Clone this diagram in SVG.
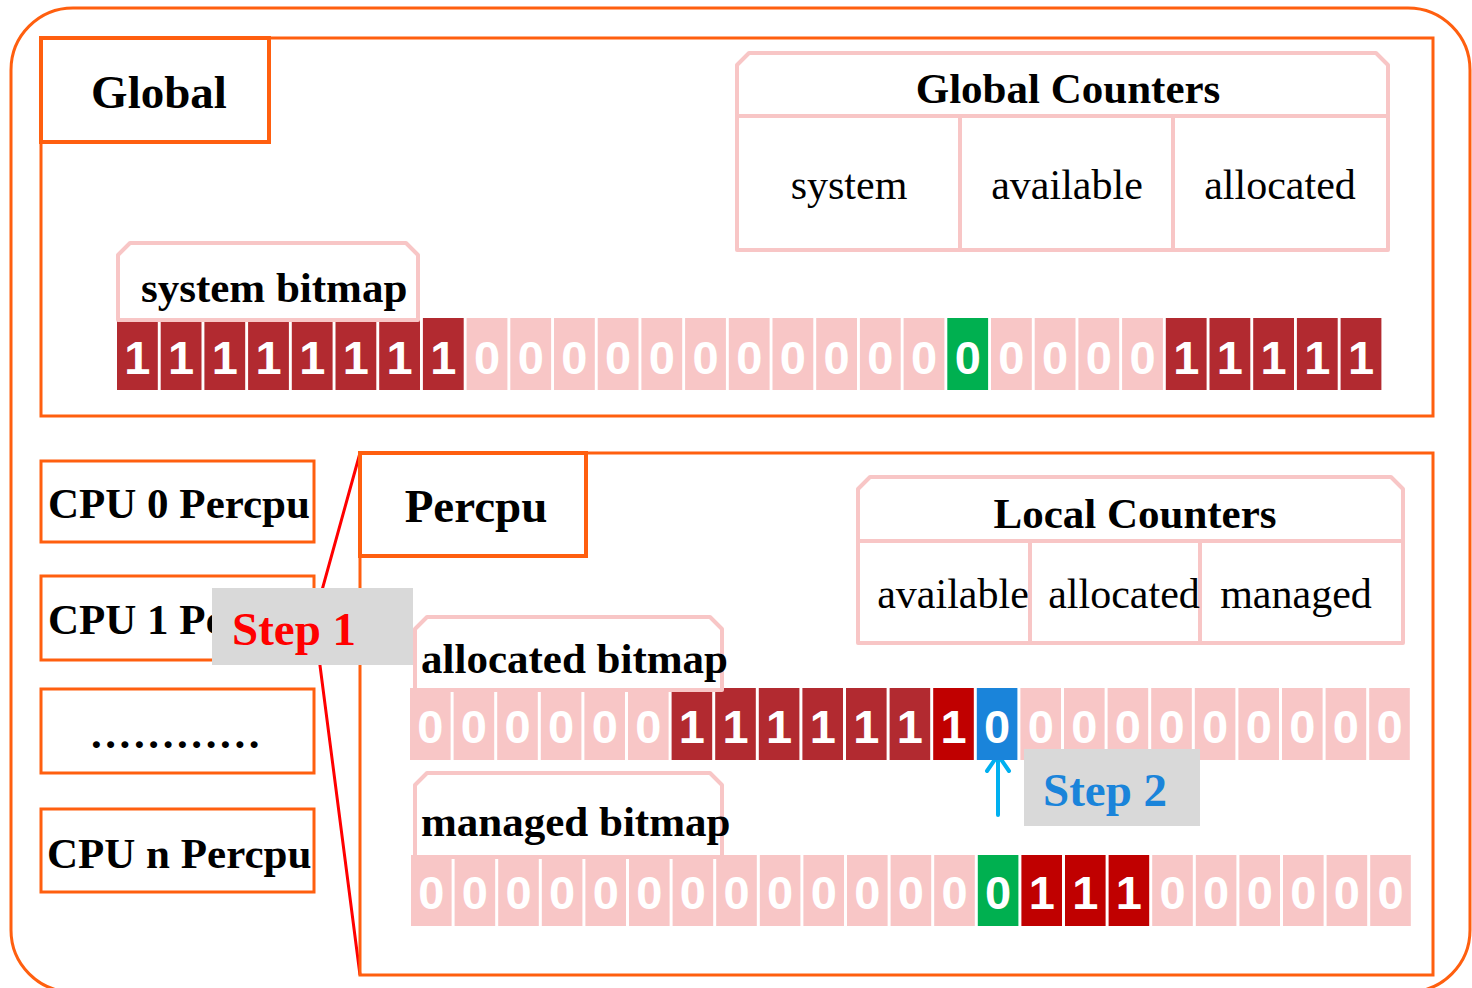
<svg xmlns="http://www.w3.org/2000/svg" width="1472" height="988" viewBox="0 0 1472 988">
  <defs>
    <style>
      .frame { fill: none; stroke: #FF5F0F; stroke-width: 3; }
      .tag { fill: #FFFFFF; stroke: #FF5F0F; stroke-width: 4; }
      .tbl { fill: #FFFFFF; stroke: #F8C6C6; stroke-width: 4; stroke-linejoin: round; }
      .div { stroke: #F8C6C6; stroke-width: 4; }
      .title { font-family: "Liberation Serif", "Times New Roman", serif; font-weight: bold; font-size: 47px; fill: #000; }
      .head { font-family: "Liberation Serif", "Times New Roman", serif; font-weight: bold; font-size: 43px; fill: #000; }
      .cell { font-family: "Liberation Serif", "Times New Roman", serif; font-size: 42px; fill: #000; }
      .z { fill: #F8C6C6; }
      .o { fill: #B22A30; }
      .r { fill: #C00000; }
      .g { fill: #00B050; }
      .b { fill: #1A84DA; }
      .bit { font-family: "Liberation Sans", Arial, sans-serif; font-weight: bold; font-size: 47px; fill: #FFFFFF; text-anchor: middle; }
      .step { fill: #D9D9D9; }
      .steptxt { font-family: "Liberation Serif", "Times New Roman", serif; font-weight: bold; font-size: 47px; }
    </style>
    <!-- the Step 1 badge hides the tail of the CPU 1 label -->
    <clipPath id="cpu1-clip">
      <rect x="41" y="576" width="171" height="84"/>
    </clipPath>
  </defs>

  <!-- outer rounded frame -->
  <rect class="frame" x="11" y="8" width="1459" height="984" rx="62" ry="62"/>

  <!-- ===== Global section ===== -->
  <g id="global">
    <rect class="frame" x="41" y="38" width="1392" height="378"/>
    <rect class="tag" x="41" y="38" width="228" height="104"/>
    <text class="title" x="159" y="108" text-anchor="middle">Global</text>
  </g>

  <g id="global-counters">
    <path class="tbl" d="M737,250 V65 L749,53 H1376 L1388,65 V250 Z"/>
    <line class="div" x1="737" y1="116" x2="1388" y2="116"/>
    <line class="div" x1="960" y1="116" x2="960" y2="250"/>
    <line class="div" x1="1173" y1="116" x2="1173" y2="250"/>
    <text class="head" x="1068" y="103" text-anchor="middle">Global Counters</text>
    <text class="cell" x="849" y="199" text-anchor="middle">system</text>
    <text class="cell" x="1067" y="199" text-anchor="middle">available</text>
    <text class="cell" x="1280" y="199" text-anchor="middle">allocated</text>
  </g>

  <g id="system-bitmap">
    <rect class="o" x="117" y="318" width="40.8" height="72"/>
    <rect class="o" x="160.7" y="318" width="40.8" height="72"/>
    <rect class="o" x="204.4" y="318" width="40.8" height="72"/>
    <rect class="o" x="248.1" y="318" width="40.8" height="72"/>
    <rect class="o" x="291.8" y="318" width="40.8" height="72"/>
    <rect class="o" x="335.5" y="318" width="40.8" height="72"/>
    <rect class="o" x="379.2" y="318" width="40.8" height="72"/>
    <rect class="o" x="422.9" y="318" width="40.8" height="72"/>
    <rect class="z" x="466.6" y="318" width="40.8" height="72"/>
    <rect class="z" x="510.3" y="318" width="40.8" height="72"/>
    <rect class="z" x="554" y="318" width="40.8" height="72"/>
    <rect class="z" x="597.7" y="318" width="40.8" height="72"/>
    <rect class="z" x="641.4" y="318" width="40.8" height="72"/>
    <rect class="z" x="685.1" y="318" width="40.8" height="72"/>
    <rect class="z" x="728.8" y="318" width="40.8" height="72"/>
    <rect class="z" x="772.5" y="318" width="40.8" height="72"/>
    <rect class="z" x="816.2" y="318" width="40.8" height="72"/>
    <rect class="z" x="859.9" y="318" width="40.8" height="72"/>
    <rect class="z" x="903.6" y="318" width="40.8" height="72"/>
    <rect class="g" x="947.3" y="318" width="40.8" height="72"/>
    <rect class="z" x="991" y="318" width="40.8" height="72"/>
    <rect class="z" x="1034.7" y="318" width="40.8" height="72"/>
    <rect class="z" x="1078.4" y="318" width="40.8" height="72"/>
    <rect class="z" x="1122.1" y="318" width="40.8" height="72"/>
    <rect class="o" x="1165.8" y="318" width="40.8" height="72"/>
    <rect class="o" x="1209.5" y="318" width="40.8" height="72"/>
    <rect class="o" x="1253.2" y="318" width="40.8" height="72"/>
    <rect class="o" x="1296.9" y="318" width="40.8" height="72"/>
    <rect class="o" x="1340.6" y="318" width="40.8" height="72"/>
    <text class="bit" x="137.4" y="374">1</text>
    <text class="bit" x="181.1" y="374">1</text>
    <text class="bit" x="224.8" y="374">1</text>
    <text class="bit" x="268.5" y="374">1</text>
    <text class="bit" x="312.2" y="374">1</text>
    <text class="bit" x="355.9" y="374">1</text>
    <text class="bit" x="399.6" y="374">1</text>
    <text class="bit" x="443.3" y="374">1</text>
    <text class="bit" x="487" y="374">0</text>
    <text class="bit" x="530.7" y="374">0</text>
    <text class="bit" x="574.4" y="374">0</text>
    <text class="bit" x="618.1" y="374">0</text>
    <text class="bit" x="661.8" y="374">0</text>
    <text class="bit" x="705.5" y="374">0</text>
    <text class="bit" x="749.2" y="374">0</text>
    <text class="bit" x="792.9" y="374">0</text>
    <text class="bit" x="836.6" y="374">0</text>
    <text class="bit" x="880.3" y="374">0</text>
    <text class="bit" x="924" y="374">0</text>
    <text class="bit" x="967.7" y="374">0</text>
    <text class="bit" x="1011.4" y="374">0</text>
    <text class="bit" x="1055.1" y="374">0</text>
    <text class="bit" x="1098.8" y="374">0</text>
    <text class="bit" x="1142.5" y="374">0</text>
    <text class="bit" x="1186.2" y="374">1</text>
    <text class="bit" x="1229.9" y="374">1</text>
    <text class="bit" x="1273.6" y="374">1</text>
    <text class="bit" x="1317.3" y="374">1</text>
    <text class="bit" x="1361" y="374">1</text>
    <!-- label tab sits over the top edge of the first cells -->
    <path class="tbl" d="M118,320 V255 L130,243 H406 L418,255 V320 Z"/>
    <text class="head" x="141" y="302">system bitmap</text>
  </g>

  <!-- ===== per-CPU list ===== -->
  <g id="cpu0">
    <rect class="frame" x="41" y="461" width="273" height="81"/>
    <text class="head" x="48" y="518">CPU 0 Percpu</text>
  </g>
  <g id="cpu1">
    <rect class="frame" x="41" y="576" width="273" height="84"/>
    <text class="head" x="48" y="634" clip-path="url(#cpu1-clip)">CPU 1 Percpu</text>
  </g>
  <g id="cpu-more">
    <rect class="frame" x="41" y="689" width="273" height="84"/>
    <text class="head" x="177" y="748" text-anchor="middle" letter-spacing="3.6">............</text>
  </g>
  <g id="cpun">
    <rect class="frame" x="41" y="809" width="273" height="83"/>
    <text class="head" x="47" y="868">CPU n Percpu</text>
  </g>

  <!-- zoom-out lines from CPU 1 to the Percpu detail, and the Step 2 pointer -->
  <g id="connectors">
    <polyline points="360,453 314,619 360,975" fill="none" stroke="#FF0000" stroke-width="3"/>
    <line x1="998" y1="815" x2="998" y2="755" stroke="#00B0F0" stroke-width="4" stroke-linecap="round"/>
    <polyline points="987,771 998,755 1009,771" fill="none" stroke="#00B0F0" stroke-width="4" stroke-linecap="round" stroke-linejoin="round"/>
  </g>

  <!-- ===== Percpu detail ===== -->
  <g id="percpu">
    <rect class="frame" x="360" y="453" width="1073" height="522"/>
    <rect class="tag" x="360" y="453" width="226" height="103"/>
    <text class="title" x="476" y="522" text-anchor="middle">Percpu</text>
  </g>

  <g id="step1">
    <rect class="step" x="212" y="588" width="201" height="77"/>
    <text class="steptxt" x="232" y="645" fill="#FF0000">Step 1</text>
  </g>

  <g id="local-counters">
    <path class="tbl" d="M858,643 V489 L870,477 H1391 L1403,489 V643 Z"/>
    <line class="div" x1="858" y1="541" x2="1403" y2="541"/>
    <line class="div" x1="1030" y1="541" x2="1030" y2="643"/>
    <line class="div" x1="1200" y1="541" x2="1200" y2="643"/>
    <text class="head" x="1135" y="528" text-anchor="middle">Local Counters</text>
    <text class="cell" x="953" y="608" text-anchor="middle">available</text>
    <text class="cell" x="1124" y="608" text-anchor="middle">allocated</text>
    <text class="cell" x="1296" y="608" text-anchor="middle">managed</text>
  </g>

  <g id="allocated-bitmap">
    <rect class="z" x="410" y="688" width="40.6" height="72"/>
    <rect class="z" x="453.6" y="688" width="40.6" height="72"/>
    <rect class="z" x="497.2" y="688" width="40.6" height="72"/>
    <rect class="z" x="540.8" y="688" width="40.6" height="72"/>
    <rect class="z" x="584.4" y="688" width="40.6" height="72"/>
    <rect class="z" x="628" y="688" width="40.6" height="72"/>
    <rect class="o" x="671.6" y="688" width="40.6" height="72"/>
    <rect class="o" x="715.2" y="688" width="40.6" height="72"/>
    <rect class="o" x="758.8" y="688" width="40.6" height="72"/>
    <rect class="o" x="802.4" y="688" width="40.6" height="72"/>
    <rect class="o" x="846" y="688" width="40.6" height="72"/>
    <rect class="o" x="889.6" y="688" width="40.6" height="72"/>
    <rect class="r" x="933.2" y="688" width="40.6" height="72"/>
    <rect class="b" x="976.8" y="688" width="40.6" height="72"/>
    <rect class="z" x="1020.4" y="688" width="40.6" height="72"/>
    <rect class="z" x="1064" y="688" width="40.6" height="72"/>
    <rect class="z" x="1107.6" y="688" width="40.6" height="72"/>
    <rect class="z" x="1151.2" y="688" width="40.6" height="72"/>
    <rect class="z" x="1194.8" y="688" width="40.6" height="72"/>
    <rect class="z" x="1238.4" y="688" width="40.6" height="72"/>
    <rect class="z" x="1282" y="688" width="40.6" height="72"/>
    <rect class="z" x="1325.6" y="688" width="40.6" height="72"/>
    <rect class="z" x="1369.2" y="688" width="40.6" height="72"/>
    <text class="bit" x="430.3" y="743">0</text>
    <text class="bit" x="473.9" y="743">0</text>
    <text class="bit" x="517.5" y="743">0</text>
    <text class="bit" x="561.1" y="743">0</text>
    <text class="bit" x="604.7" y="743">0</text>
    <text class="bit" x="648.3" y="743">0</text>
    <text class="bit" x="691.9" y="743">1</text>
    <text class="bit" x="735.5" y="743">1</text>
    <text class="bit" x="779.1" y="743">1</text>
    <text class="bit" x="822.7" y="743">1</text>
    <text class="bit" x="866.3" y="743">1</text>
    <text class="bit" x="909.9" y="743">1</text>
    <text class="bit" x="953.5" y="743">1</text>
    <text class="bit" x="997.1" y="743">0</text>
    <text class="bit" x="1040.7" y="743">0</text>
    <text class="bit" x="1084.3" y="743">0</text>
    <text class="bit" x="1127.9" y="743">0</text>
    <text class="bit" x="1171.5" y="743">0</text>
    <text class="bit" x="1215.1" y="743">0</text>
    <text class="bit" x="1258.7" y="743">0</text>
    <text class="bit" x="1302.3" y="743">0</text>
    <text class="bit" x="1345.9" y="743">0</text>
    <text class="bit" x="1389.5" y="743">0</text>
    <path class="tbl" d="M415,690 V629 L427,617 H710 L722,629 V690 Z"/>
    <text class="head" x="421" y="673">allocated bitmap</text>
  </g>

  <g id="step2">
    <rect class="step" x="1024" y="749" width="176" height="77"/>
    <text class="steptxt" x="1043" y="806" fill="#1A84DA">Step 2</text>
  </g>

  <g id="managed-bitmap">
    <rect class="z" x="411" y="855" width="40.6" height="71"/>
    <rect class="z" x="454.6" y="855" width="40.6" height="71"/>
    <rect class="z" x="498.2" y="855" width="40.6" height="71"/>
    <rect class="z" x="541.8" y="855" width="40.6" height="71"/>
    <rect class="z" x="585.4" y="855" width="40.6" height="71"/>
    <rect class="z" x="629" y="855" width="40.6" height="71"/>
    <rect class="z" x="672.6" y="855" width="40.6" height="71"/>
    <rect class="z" x="716.2" y="855" width="40.6" height="71"/>
    <rect class="z" x="759.8" y="855" width="40.6" height="71"/>
    <rect class="z" x="803.4" y="855" width="40.6" height="71"/>
    <rect class="z" x="847" y="855" width="40.6" height="71"/>
    <rect class="z" x="890.6" y="855" width="40.6" height="71"/>
    <rect class="z" x="934.2" y="855" width="40.6" height="71"/>
    <rect class="g" x="977.8" y="855" width="40.6" height="71"/>
    <rect class="r" x="1021.4" y="855" width="40.6" height="71"/>
    <rect class="r" x="1065" y="855" width="40.6" height="71"/>
    <rect class="r" x="1108.6" y="855" width="40.6" height="71"/>
    <rect class="z" x="1152.2" y="855" width="40.6" height="71"/>
    <rect class="z" x="1195.8" y="855" width="40.6" height="71"/>
    <rect class="z" x="1239.4" y="855" width="40.6" height="71"/>
    <rect class="z" x="1283" y="855" width="40.6" height="71"/>
    <rect class="z" x="1326.6" y="855" width="40.6" height="71"/>
    <rect class="z" x="1370.2" y="855" width="40.6" height="71"/>
    <text class="bit" x="431.3" y="909">0</text>
    <text class="bit" x="474.9" y="909">0</text>
    <text class="bit" x="518.5" y="909">0</text>
    <text class="bit" x="562.1" y="909">0</text>
    <text class="bit" x="605.7" y="909">0</text>
    <text class="bit" x="649.3" y="909">0</text>
    <text class="bit" x="692.9" y="909">0</text>
    <text class="bit" x="736.5" y="909">0</text>
    <text class="bit" x="780.1" y="909">0</text>
    <text class="bit" x="823.7" y="909">0</text>
    <text class="bit" x="867.3" y="909">0</text>
    <text class="bit" x="910.9" y="909">0</text>
    <text class="bit" x="954.5" y="909">0</text>
    <text class="bit" x="998.1" y="909">0</text>
    <text class="bit" x="1041.7" y="909">1</text>
    <text class="bit" x="1085.3" y="909">1</text>
    <text class="bit" x="1128.9" y="909">1</text>
    <text class="bit" x="1172.5" y="909">0</text>
    <text class="bit" x="1216.1" y="909">0</text>
    <text class="bit" x="1259.7" y="909">0</text>
    <text class="bit" x="1303.3" y="909">0</text>
    <text class="bit" x="1346.9" y="909">0</text>
    <text class="bit" x="1390.5" y="909">0</text>
    <path class="tbl" d="M415,857 V785 L427,773 H710 L722,785 V857 Z"/>
    <text class="head" x="421" y="836">managed bitmap</text>
  </g>
</svg>
